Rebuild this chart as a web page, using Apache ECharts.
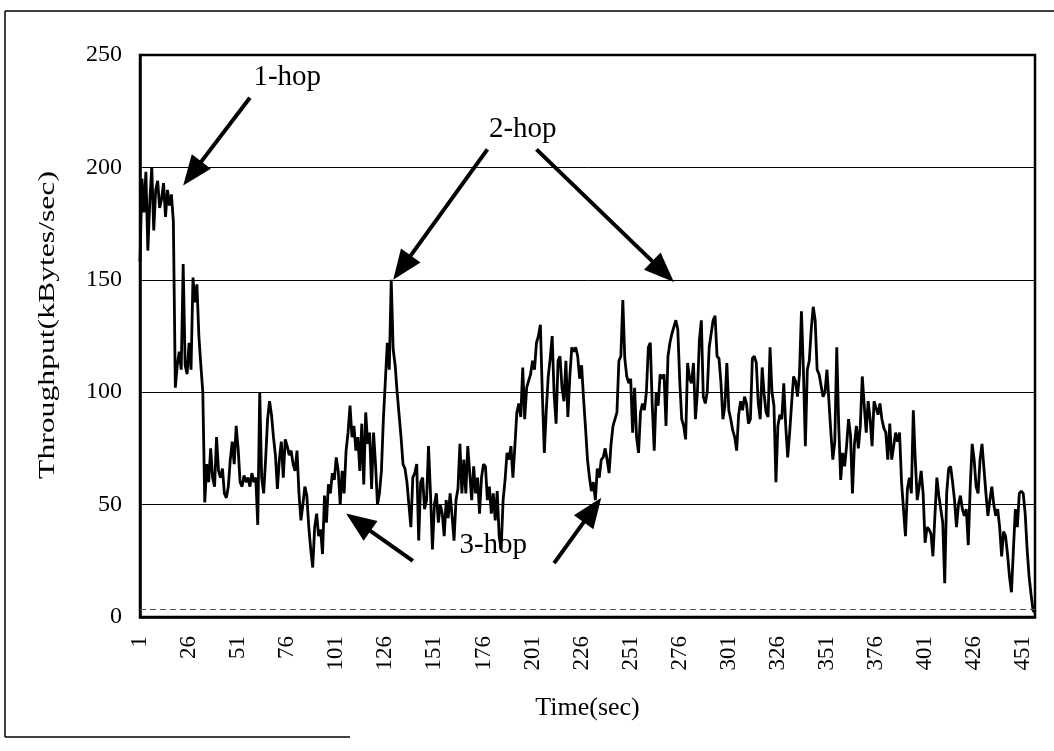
<!DOCTYPE html>
<html>
<head>
<meta charset="utf-8">
<title>Throughput vs Time</title>
<script src="https://cdn.jsdelivr.net/npm/echarts@6/dist/echarts.min.js"></script>
<style>
  html, body { margin: 0; padding: 0; background: #fff; }
  #chart { width: 1054px; height: 751px; }
</style>
</head>
<body>
<div id="chart"></div>
<script>
// Throughput samples, one per second (kBytes/sec)
const throughput = [
  158,195,180,198,163,185,200,172,190,194,
  182,186,193,178,190,183,188,176,102,112,
  118,110,157,112,108,122,110,151,140,148,
  125,112,100,51,68,60,75,62,58,80,
  65,62,66,55,53,58,70,78,68,85,
  75,60,58,63,60,62,58,64,60,62,
  41,100,62,55,70,88,96,90,80,72,
  57,70,78,62,79,76,72,74,68,65,
  74,55,43,50,58,54,40,30,22,40,
  46,36,39,28,54,42,59,55,64,61,
  71,65,50,65,55,74,82,94,80,85,
  74,80,65,86,59,91,77,82,57,82,
  68,50,55,65,88,105,122,110,150,119,
  112,100,90,80,68,66,60,50,40,62,
  64,68,34,60,62,48,52,76,55,30,
  50,55,42,50,46,36,52,44,55,45,
  34,52,57,77,55,70,55,76,64,52,
  67,55,62,46,62,68,67,52,58,46,
  55,43,56,36,30,52,61,73,70,76,
  62,76,91,95,89,111,88,102,105,108,
  114,110,122,125,130,99,73,92,107,115,
  125,99,86,114,116,102,96,114,89,107,
  120,118,120,116,106,112,97,84,70,62,
  56,60,52,66,62,70,71,75,70,64,
  77,85,88,91,114,116,141,115,107,104,
  106,82,102,80,73,91,95,92,100,120,
  122,94,74,100,94,108,106,108,85,116,
  122,126,129,132,128,105,88,85,79,113,
  106,104,113,88,100,123,132,98,95,100,
  120,126,132,134,116,115,104,88,94,113,
  92,88,83,80,74,90,96,92,98,95,
  86,88,115,116,113,95,88,111,99,91,
  89,120,100,94,60,85,90,88,104,85,
  71,82,95,107,105,98,108,136,110,76,
  110,114,128,138,132,110,108,108,98,100,
  110,96,82,70,78,120,85,61,73,67,
  76,88,81,55,77,85,75,85,107,94,
  82,96,88,76,96,93,90,95,88,84,
  82,70,86,70,76,82,78,82,60,48,
  36,57,62,55,92,70,52,58,65,55,
  33,40,39,37,27,45,62,54,48,42,
  15,55,66,67,60,52,40,50,54,48,
  45,48,32,58,77,70,58,55,70,77,
  66,55,45,52,58,50,45,48,40,27,
  38,36,28,18,11,30,48,40,55,56,
  55,46,30,18,10,3,2
];

// Time axis categories (seconds)
const seconds = throughput.map((_, i) => String(i + 1));

// Value-axis range and step
const yMin = 0, yMax = 250, yStep = 50;

// Axis titles
const xTitle = 'Time(sec)';
const yTitle = 'Throughput(kBytes/sec)';

// Faint dashed reference line just above the base
const baseRefLine = [3.5];

// Callouts: label text position and arrows, all in data units [second index, kBytes/sec]
const callouts = [
  { text: '1-hop', at: [75, 240], arrows: [ [[56, 231], [22, 192]] ] },
  { text: '2-hop', at: [195, 217], arrows: [ [[177, 208], [128.5, 150]], [[202, 208], [271.5, 149]] ] },
  { text: '3-hop', at: [180, 32], arrows: [ [[139, 25], [104.5, 46]], [[211, 24], [235, 53]] ] }
];

const FONT = '"Liberation Serif", "DejaVu Serif", serif';

const chart = echarts.init(document.getElementById('chart'), null, { renderer: 'canvas' });

const option = {
  animation: false,
  backgroundColor: '#ffffff',
  grid: {
    left: 140, right: 19, top: 55, bottom: 134,
    show: true, borderColor: '#000', borderWidth: 2.5, backgroundColor: 'transparent'
  },
  xAxis: {
    type: 'category',
    data: seconds,
    boundaryGap: false,
    name: xTitle,
    nameLocation: 'middle',
    nameGap: 78,
    nameTextStyle: { fontFamily: FONT, fontSize: 26, color: '#000' },
    axisLine: { show: true, lineStyle: { color: '#000', width: 2.5 } },
    axisTick: { show: false },
    axisLabel: {
      interval: 24, rotate: 90, margin: 19,
      fontFamily: FONT, fontSize: 23, color: '#000'
    },
    splitLine: { show: false }
  },
  yAxis: {
    type: 'value',
    min: yMin, max: yMax, interval: yStep,
    axisLine: { show: true, lineStyle: { color: '#000', width: 2.5 } },
    axisTick: { show: false },
    axisLabel: { margin: 18, fontFamily: FONT, fontSize: 24, color: '#000' },
    splitLine: { show: true, lineStyle: { color: '#000', width: 1 } }
  },
  series: [{
    type: 'line',
    data: throughput,
    showSymbol: false,
    symbol: 'none',
    lineStyle: { color: '#000', width: 2.8 },
    markLine: {
      silent: true,
      symbol: 'none',
      label: { show: false },
      lineStyle: { type: [6, 4], color: '#555', width: 1 },
      data: baseRefLine.map(v => ({ yAxis: v }))
    }
  }]
};

chart.setOption(option);

// Build arrow + label graphics from data coordinates
function toPx(p) {
  return chart.convertToPixel({ gridIndex: 0 }, [p[0], p[1]]);
}

function arrowShapes(tail, tip) {
  const dx = tip[0] - tail[0], dy = tip[1] - tail[1];
  const len = Math.sqrt(dx * dx + dy * dy);
  const ux = dx / len, uy = dy / len;
  const headLen = 30, halfW = 12;
  const bx = tip[0] - ux * headLen, by = tip[1] - uy * headLen;
  const nx = -uy, ny = ux;
  return [
    {
      type: 'line', silent: true,
      shape: { x1: tail[0], y1: tail[1], x2: bx + ux * 2, y2: by + uy * 2 },
      style: { stroke: '#000', lineWidth: 4 }
    },
    {
      type: 'polygon', silent: true,
      shape: { points: [tip, [bx + nx * halfW, by + ny * halfW], [bx - nx * halfW, by - ny * halfW]] },
      style: { fill: '#000' }
    }
  ];
}

const graphics = [];
callouts.forEach(c => {
  const pos = toPx(c.at);
  graphics.push({
    type: 'text', silent: true, z: 100,
    x: pos[0], y: pos[1],
    style: {
      text: c.text, font: '29px ' + FONT, fill: '#000',
      align: 'center', verticalAlign: 'middle'
    }
  });
  c.arrows.forEach(a => {
    arrowShapes(toPx(a[0]), toPx(a[1])).forEach(s => { s.z = 90; graphics.push(s); });
  });
});

// Vertical axis title, set in a widely tracked serif running bottom to top
graphics.push({
  type: 'text', silent: true,
  x: 48, y: 325,
  rotation: Math.PI / 2,
  scaleX: 1.32,
  style: {
    text: yTitle, font: '24px ' + FONT, fill: '#000',
    align: 'center', verticalAlign: 'middle'
  }
});

// Outer chart-area frame
graphics.push(
  { type: 'line', silent: true, shape: { x1: 5, y1: 11, x2: 1054, y2: 11 }, style: { stroke: '#000', lineWidth: 1.5 } },
  { type: 'line', silent: true, shape: { x1: 5, y1: 11, x2: 5, y2: 737 }, style: { stroke: '#000', lineWidth: 1.5 } },
  { type: 'line', silent: true, shape: { x1: 5, y1: 737, x2: 350, y2: 737 }, style: { stroke: '#000', lineWidth: 1.5 } }
);

chart.setOption({ graphic: graphics });
</script>
</body>
</html>
